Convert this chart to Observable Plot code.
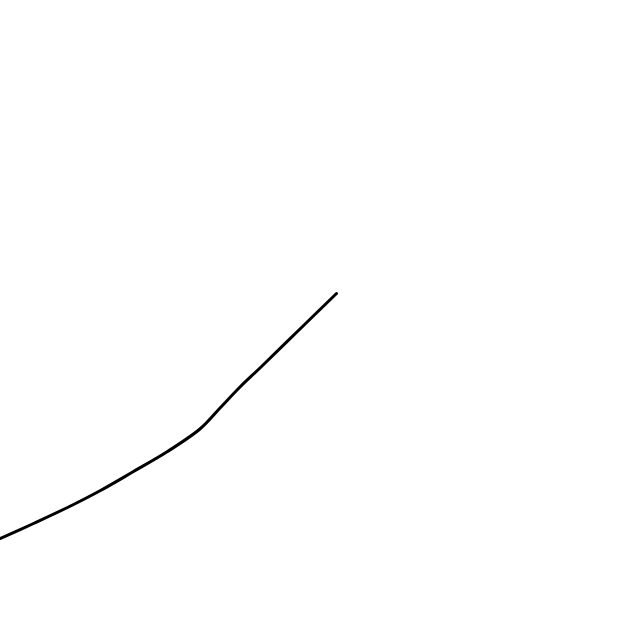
<!DOCTYPE html>
<html>
<head>
<meta charset="utf-8">
<script src="https://cdn.jsdelivr.net/npm/d3@7"></script>
<script src="https://cdn.jsdelivr.net/npm/@observablehq/plot@0.6"></script>
<style>
html, body { margin: 0; padding: 0; background: #fff; }
</style>
</head>
<body>
<div id="chart"></div>
<script>
const xs = [0, 33, 67, 100, 133, 167, 200, 220, 240, 260, 300, 336];
const ys = [102, 117, 133, 150, 169, 189, 212, 233, 254, 273, 312, 347];

const data = xs.map((x, i) => ({x, y: ys[i]}));

const chart = Plot.plot({
  width: 640,
  height: 640,
  margin: 0,
  x: {domain: [0, 640], axis: null},
  y: {domain: [0, 640], axis: null},
  marks: [
    Plot.line(data, {x: "x", y: "y", stroke: "#000", strokeWidth: 3, curve: "catmull-rom"})
  ]
});
document.getElementById("chart").appendChild(chart);
</script>
</body>
</html>
